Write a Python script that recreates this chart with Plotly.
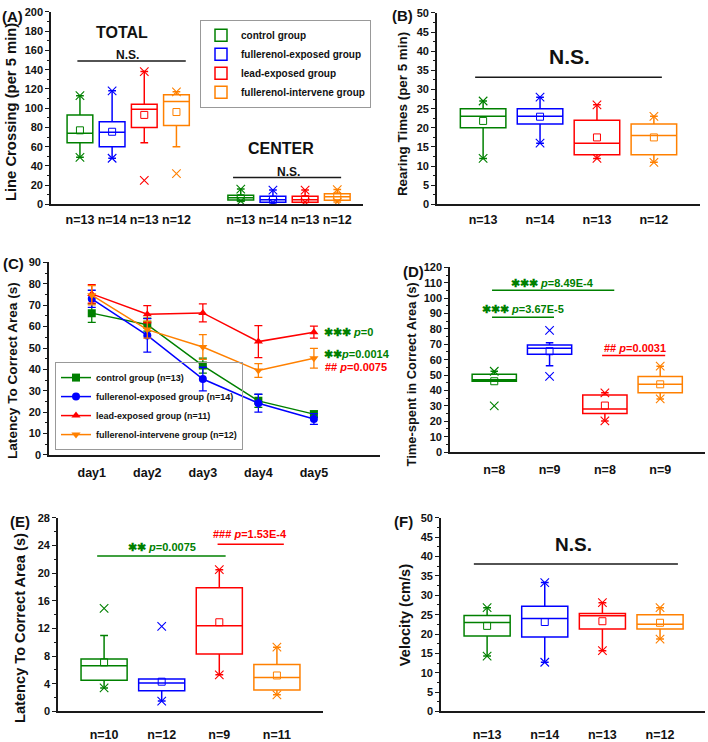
import plotly.graph_objects as go

W, H = 708, 742
FONT = "Liberation Sans, Arial, Helvetica, sans-serif"
AXC = "#1a1a1a"

GROUPS = ["control group", "fullerenol-exposed group", "lead-exposed group", "fullerenol-intervene group"]
COLORS = ["#008000", "#0000FF", "#FF0000", "#FF8000"]

# ---------------- Panel A : Line crossing (TOTAL / CENTER) ----------------
A_n_labels = ["n=13", "n=14", "n=13", "n=12"]
A_total_q1 = [64, 60, 80, 82]
A_total_median = [74, 75, 99, 107]
A_total_q3 = [93, 86, 104, 114]
A_total_low = [49, 48, 64, 60]
A_total_high = [113, 118, 138, 117]
A_total_mean = [77, 75.5, 93, 96]
A_total_min = [49, 48, 25, 32]
A_total_max = [113, 118, 138, 117]
A_center_q1 = [4.5, 2.4, 2.4, 4.4]
A_center_median = [7, 5, 5, 8]
A_center_q3 = [9.5, 8.5, 8.5, 11.2]
A_center_low = [3.5, 2, 2.5, 2.5]
A_center_high = [16, 15, 15, 15.5]
A_center_mean = [6.5, 5, 5.5, 8.5]
A_center_min = [3.5, 2, 2.5, 2.5]
A_center_max = [16, 15, 15, 15.5]

# ---------------- Panel B : Rearing times ----------------
B_n_labels = ["n=13", "n=14", "n=13", "n=12"]
B_q1 = [20, 21, 13, 13]
B_median = [23, 23, 16, 18]
B_q3 = [25, 25, 22, 21]
B_low = [12, 16, 12, 11]
B_high = [27, 28, 26, 23]
B_mean = [21.8, 22.9, 17.5, 17.5]
B_min = [12, 16, 12, 11]
B_max = [27, 28, 26, 23]

# ---------------- Panel C : Latency over days ----------------
C_days = ["day1", "day2", "day3", "day4", "day5"]
C_names = ["control group (n=13)", "fullerenol-exposed group (n=14)",
           "lead-exposed group (n=11)", "fullerenol-intervene group (n=12)"]
C_control = [66.3, 60.9, 41.8, 25.3, 19.1]
C_control_err = [4.3, 3.0, 3.5, 3.0, 1.5]
C_fullerenol = [73.0, 55.9, 35.5, 24.2, 16.8]
C_fullerenol_err = [4.0, 7.8, 5.5, 4.2, 2.5]
C_lead = [75.3, 65.8, 66.4, 53.0, 57.4]
C_lead_err = [4.3, 4.0, 4.2, 7.5, 2.8]
C_intervene = [74.7, 58.6, 50.5, 39.5, 45.2]
C_intervene_err = [4.5, 4.0, 5.8, 3.2, 4.6]
C_symbols = ["square", "circle", "triangle-up", "triangle-down"]

# ---------------- Panel D : Time spent in correct area ----------------
D_n_labels = ["n=8", "n=9", "n=8", "n=9"]
D_q1 = [46, 63.5, 25, 38.5]
D_median = [47, 67.5, 28, 44]
D_q3 = [50.5, 69.5, 37, 49]
D_low = [46, 56, 20.2, 34.5]
D_high = [52.5, 71, 38.5, 55.8]
D_mean = [46, 65.5, 30.2, 44]
D_min = [30, 49.2, 20.2, 34.5]
D_max = [52.5, 79, 38.5, 55.8]

# ---------------- Panel E : Latency to correct area ----------------
E_n_labels = ["n=10", "n=12", "n=9", "n=11"]
E_q1 = [4.5, 3.0, 8.3, 3.1]
E_median = [6.6, 4.1, 12.4, 4.9]
E_q3 = [7.6, 4.7, 17.9, 6.8]
E_low = [3.4, 1.5, 5.3, 2.4]
E_high = [11.0, 4.7, 20.5, 9.3]
E_mean = [7.1, 4.3, 12.9, 5.2]
E_min = [3.4, 1.5, 5.3, 2.4]
E_max = [14.9, 12.3, 20.5, 9.3]

# ---------------- Panel F : Velocity ----------------
F_n_labels = ["n=13", "n=14", "n=13", "n=12"]
F_q1 = [19.5, 19.2, 21.3, 21.3]
F_median = [23, 24, 24.7, 22.5]
F_q3 = [24.8, 27.2, 25.3, 25.0]
F_low = [14.3, 12.7, 15.7, 18.7]
F_high = [26.8, 33.3, 28.1, 26.8]
F_mean = [22.1, 23.1, 23.3, 22.9]
F_min = [14.3, 12.7, 15.7, 18.7]
F_max = [26.8, 33.3, 28.1, 26.8]

# category positions
POS4 = [1, 2, 3, 4]
A_POS_TOTAL = [1, 2, 3, 4]
A_POS_CENTER = [6, 7, 8, 9]
C_POS = [0, 1, 2, 3, 4]

fig = go.Figure()


def add_box_set(xa, ya, pos, q1, med, q3, lo, hi, mean, mn, mx, color,
                name=None, legend=None, ww=0.2):
    fig.add_trace(go.Box(
        x=pos, q1=q1, median=med, q3=q3, lowerfence=lo, upperfence=hi,
        width=0.8, whiskerwidth=ww, boxpoints=False,
        line=dict(color=color, width=1.5), fillcolor="rgba(255,255,255,0)",
        xaxis=xa, yaxis=ya, name=name or "", hoverinfo="skip",
        showlegend=legend is not None, legend=legend or "legend"))
    fig.add_trace(go.Scatter(
        x=pos, y=mean, mode="markers", xaxis=xa, yaxis=ya, showlegend=False,
        hoverinfo="skip",
        marker=dict(symbol="square-open", size=7, color=color, line=dict(width=1))))
    fig.add_trace(go.Scatter(
        x=list(pos) + list(pos), y=list(mn) + list(mx), mode="markers",
        xaxis=xa, yaxis=ya, showlegend=False, hoverinfo="skip",
        marker=dict(symbol="x-thin", size=8.5, color=color,
                    line=dict(color=color, width=1.1))))


# Panel A
for i, c in enumerate(COLORS):
    add_box_set("x", "y", [A_POS_TOTAL[i], A_POS_CENTER[i]],
                [A_total_q1[i], A_center_q1[i]],
                [A_total_median[i], A_center_median[i]],
                [A_total_q3[i], A_center_q3[i]],
                [A_total_low[i], A_center_low[i]],
                [A_total_high[i], A_center_high[i]],
                [A_total_mean[i], A_center_mean[i]],
                [A_total_min[i], A_center_min[i]],
                [A_total_max[i], A_center_max[i]],
                c, name=GROUPS[i], legend="legend", ww=0.3)

# Panels B, D, E, F
for xa, ya, data in [
    ("x2", "y2", (B_q1, B_median, B_q3, B_low, B_high, B_mean, B_min, B_max)),
    ("x4", "y4", (D_q1, D_median, D_q3, D_low, D_high, D_mean, D_min, D_max)),
    ("x5", "y5", (E_q1, E_median, E_q3, E_low, E_high, E_mean, E_min, E_max)),
    ("x6", "y6", (F_q1, F_median, F_q3, F_low, F_high, F_mean, F_min, F_max)),
]:
    for i, c in enumerate(COLORS):
        add_box_set(xa, ya, [POS4[i]], *[[arr[i]] for arr in data], c, ww=0.17)

# Panel C
C_series = [(C_control, C_control_err), (C_fullerenol, C_fullerenol_err),
            (C_lead, C_lead_err), (C_intervene, C_intervene_err)]
for i, (vals, errs) in enumerate(C_series):
    fig.add_trace(go.Scatter(
        x=C_POS, y=vals, mode="lines+markers", name=C_names[i],
        xaxis="x3", yaxis="y3", legend="legend2", hoverinfo="skip",
        line=dict(color=COLORS[i], width=1.5),
        marker=dict(symbol=C_symbols[i], size=8, color=COLORS[i]),
        error_y=dict(type="data", array=errs, color=COLORS[i], thickness=1.3, width=4)))


def dx(a, b):
    return [a / W, b / W]


def dy(top, bottom):
    return [1 - bottom / H, 1 - top / H]


tickfont = dict(family=FONT, size=11, color="#111", weight="bold")
nfont = dict(family=FONT, size=12.5, color="#111", weight="bold")


def yax(domain, anchor, rng, dtick):
    return dict(domain=domain, anchor=anchor, range=rng, dtick=dtick, tick0=0,
                showline=True, linecolor=AXC, linewidth=1.6, ticks="outside",
                ticklen=4, tickwidth=1.3, tickcolor=AXC, showgrid=False,
                zeroline=False, tickfont=tickfont,
                minor=dict(ticks="outside", ticklen=2, tickwidth=1, tickcolor=AXC,
                           dtick=dtick / 2))


def xax(domain, anchor, rng, tickvals, ticktext, standoff=5):
    return dict(domain=domain, anchor=anchor, range=rng, tickvals=tickvals,
                ticktext=ticktext, showline=True, linecolor=AXC, linewidth=1.6,
                ticks="", showgrid=False, zeroline=False, tickfont=nfont,
                ticklabelstandoff=standoff)


layout = dict(
    width=W, height=H, margin=dict(l=0, r=0, t=0, b=0),
    paper_bgcolor="white", plot_bgcolor="white", boxmode="overlay",
    xaxis=xax(dx(51, 363), "y", [0.1, 9.8], A_POS_TOTAL + A_POS_CENTER,
              A_n_labels + A_n_labels, 3),
    yaxis=yax(dy(6, 202), "x", [0, 200], 20),
    xaxis2=xax(dx(437, 700), "y2", [0.19, 4.81], POS4, B_n_labels, 3),
    yaxis2=yax(dy(7, 202), "x2", [0, 50], 5),
    xaxis3=xax(dx(49, 380), "y3", [-0.77, 5.19], C_POS, C_days),
    yaxis3=yax(dy(261, 457), "x3", [0, 90], 10),
    xaxis4=xax(dx(450, 705), "y4", [0.2, 4.81], POS4, D_n_labels),
    yaxis4=yax(dy(266, 454), "x4", [0, 120], 10),
    xaxis5=xax(dx(58, 323), "y5", [0.2, 4.8], POS4, E_n_labels, 11),
    yaxis5=yax(dy(521, 718), "x5", [0, 28], 4),
    xaxis6=xax(dx(441, 705), "y6", [0.2, 4.78], POS4, F_n_labels, 11),
    yaxis6=yax(dy(521, 718), "x6", [0, 50], 5),
    legend=dict(x=200 / W, y=1 - 14 / H, xanchor="left", yanchor="top",
                bordercolor="#999", borderwidth=1, bgcolor="white",
                font=dict(family=FONT, size=10, color="#111", weight="bold"),
                tracegroupgap=0, itemwidth=30),
    legend2=dict(x=55 / W, y=1 - 452 / H, xanchor="left", yanchor="bottom",
                 bordercolor="#999", borderwidth=1, bgcolor="rgba(255,255,255,0)",
                 font=dict(family=FONT, size=9, color="#111", weight="bold"),
                 tracegroupgap=0, itemwidth=30),
)
fig.update_layout(**layout)

# significance lines
sig_lines = [
    ("x", "y", 0.92, 4.29, 149, AXC),
    ("x", "y", 5.76, 9.12, 28, AXC),
    ("x2", "y2", 0.86, 4.14, 33.2, AXC),
    ("x4", "y4", 0.96, 3.17, 105.1, COLORS[0]),
    ("x4", "y4", 0.96, 2.08, 87.5, COLORS[0]),
    ("x4", "y4", 2.95, 4.09, 62.7, COLORS[2]),
    ("x5", "y5", 0.88, 3.11, 22.5, COLORS[0]),
    ("x5", "y5", 2.97, 4.12, 24.2, COLORS[2]),
    ("x6", "y6", 0.77, 4.31, 38.1, AXC),
]
for xa, ya, x0, x1, yv, col in sig_lines:
    fig.add_shape(type="line", xref=xa, yref=ya, x0=x0, x1=x1, y0=yv, y1=yv,
                  line=dict(color=col, width=1.5))

STAR = "\u2731"


def ann(xa, ya, x, y, text, size, color="#111", xanchor="center"):
    fig.add_annotation(xref=xa, yref=ya, x=x, y=y, text=text, showarrow=False,
                       xanchor=xanchor, yanchor="middle",
                       font=dict(family=FONT, size=size, color=color, weight="bold"))


ann("x", "y", 2.32, 179, "TOTAL", 16)
ann("x", "y", 7.26, 58, "CENTER", 16)
ann("x", "y", 2.48, 155, "N.S.", 12)
ann("x", "y", 7.48, 34, "N.S.", 12)
ann("x2", "y2", 2.52, 38.5, "N.S.", 21)
ann("x6", "y6", 2.49, 43, "N.S.", 19)
ann("x3", "y3", 4.14, 57.4, STAR * 3 + " <i>p</i>=0", 11, COLORS[0], "left")
ann("x3", "y3", 4.14, 47, STAR * 2 + "<i>p</i>=0.0014", 11, COLORS[0], "left")
ann("x3", "y3", 4.16, 41, "## <i>p</i>=0.0075", 11, COLORS[2], "left")
ann("x4", "y4", 2.06, 109.8, STAR * 3 + " <i>p</i>=8.49E-4", 11, COLORS[0])
ann("x4", "y4", 1.52, 92.8, STAR * 3 + " <i>p</i>=3.67E-5", 11, COLORS[0])
ann("x4", "y4", 3.55, 67.8, "## <i>p</i>=0.0031", 11, COLORS[2])
ann("x5", "y5", 2.0, 23.85, STAR * 2 + " <i>p</i>=0.0075", 11, COLORS[0])
ann("x5", "y5", 3.53, 25.6, "### <i>p</i>=1.53E-4", 11, COLORS[2])


# axis titles and panel labels (paper coordinates)
def pann(xp, yp, text, size, angle=0):
    fig.add_annotation(xref="paper", yref="paper", x=xp / W, y=1 - yp / H, text=text,
                       showarrow=False, textangle=angle, xanchor="center", yanchor="middle",
                       font=dict(family=FONT, size=size, color="#111", weight="bold"))


pann(11, 108, "Line Crossing (per 5 min)", 14.8, -90)
pann(402, 110, "Rearing Times (per 5 min)", 13.4, -90)
pann(12.5, 371, "Latency To Correct Area (s)", 13.6, -90)
pann(411, 375, "Time-spent in Correct Area (s)", 12.9, -90)
pann(20, 633, "Latency To Correct Area (s)", 14.6, -90)
pann(405, 620, "Velocity (cm/s)", 14.6, -90)
pann(12, 10.5, "(A)", 15)
pann(402, 10, "(B)", 15)
pann(13, 262, "(C)", 15)
pann(413, 270, "(D)", 15)
pann(20, 525, "(E)", 15)
pann(403, 525, "(F)", 15)

fig.write_html("out.html", config={"displayModeBar": False},
               post_script="document.body.style.margin='0';document.body.style.overflow='hidden';")
